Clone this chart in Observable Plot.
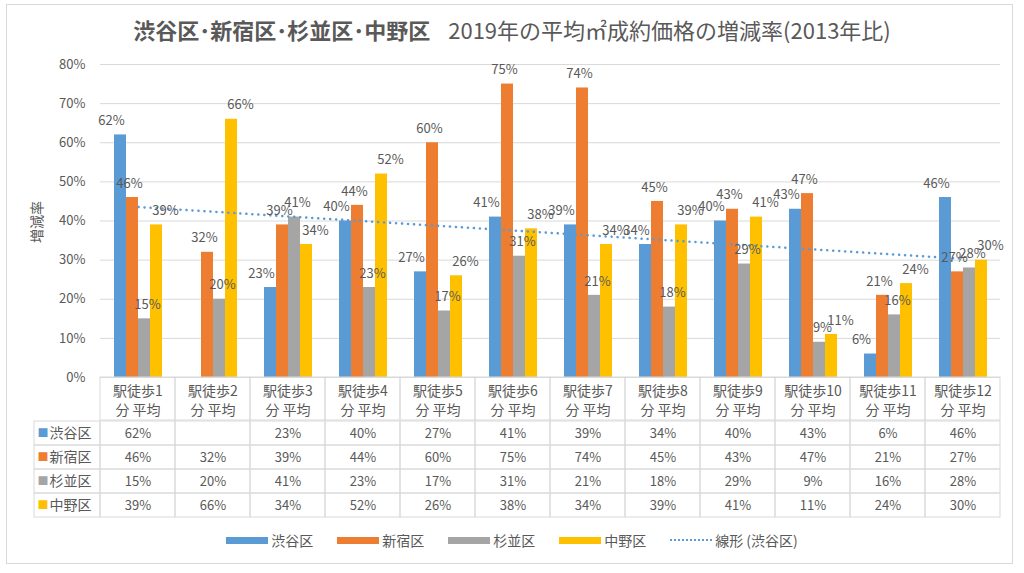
<!DOCTYPE html>
<html><head><meta charset="utf-8">
<script src="https://cdn.jsdelivr.net/npm/d3@7"></script>
<script src="https://cdn.jsdelivr.net/npm/@observablehq/plot@0.6"></script>
<style>
body{margin:0;background:#fff;font-family:"Noto Sans CJK JP","Noto Sans",sans-serif;color:#595959}
#root{position:relative;width:1024px;height:573px;overflow:hidden;background:#fff}
#frame{position:absolute;left:6px;top:4px;width:1007px;height:560px;border:1px solid #d9d9d9;box-sizing:border-box}
.layer{position:absolute}
.layer svg{overflow:visible;display:block}
#title{position:absolute;left:0;top:15px;width:1024px;text-align:center;font-size:22px;line-height:28px;white-space:nowrap;color:#595959}
#title b{font-weight:700}
#title span{margin-left:18px}
#ylab{position:absolute;left:36px;top:222px;transform:translate(-50%,-50%) rotate(-90deg);font-size:14px;white-space:nowrap;color:#595959}
#legend{position:absolute;left:0;top:530px;width:1024px;height:20px;display:flex;justify-content:center;align-items:center;font-size:14px;color:#595959}
.item{display:flex;align-items:center;margin-right:24px}
.item:last-child{margin-right:0}
.sw{width:42px;height:7px;margin-right:3px}
.swd{width:42px;height:0;border-top:2.5px dotted #5B9BD5;margin-right:3px}
</style></head>
<body>
<div id="root">
  <div id="frame"></div>
  <div id="title"><b>渋谷区･新宿区･杉並区･中野区</b><span>2019年の平均㎡成約価格の増減率(2013年比)</span></div>
  <div id="ylab">増減率</div>
  <div id="legend"></div>
</div>
<script>
const categories = ["駅徒歩1\n分 平均","駅徒歩2\n分 平均","駅徒歩3\n分 平均","駅徒歩4\n分 平均","駅徒歩5\n分 平均","駅徒歩6\n分 平均","駅徒歩7\n分 平均","駅徒歩8\n分 平均","駅徒歩9\n分 平均","駅徒歩10\n分 平均","駅徒歩11\n分 平均","駅徒歩12\n分 平均"];
const seriesNames = ["渋谷区","新宿区","杉並区","中野区"];
const shibuya  = [62, null, 23, 40, 27, 41, 39, 34, 40, 43, 6, 46];
const shinjuku = [46, 32, 39, 44, 60, 75, 74, 45, 43, 47, 21, 27];
const suginami = [15, 20, 41, 23, 17, 31, 21, 18, 29, 9, 16, 28];
const nakano   = [39, 66, 34, 52, 26, 38, 34, 39, 41, 11, 24, 30];
const yTicks = [0, 10, 20, 30, 40, 50, 60, 70, 80];
const seriesColors = ["#5B9BD5", "#ED7D31", "#A5A5A5", "#FFC000"];
const trendName = "線形 (渋谷区)";

const FONT = '"Noto Sans CJK JP","Noto Sans",sans-serif';
const TEXT = "#595959";
const GRID = "#d9d9d9";
const seriesValues = [shibuya, shinjuku, suginami, nakano];

const rows = [];
categories.forEach((cat, i) => seriesNames.forEach((s, k) => {
  rows.push({cat, series: s, value: seriesValues[k][i]});
}));
const barRows = rows.filter(d => d.value != null);

// least-squares linear trend of 渋谷区 (Excel 線形近似)
const pts = shibuya.map((v, i) => ({x: i + 1, y: v})).filter(p => p.y != null);
const mx = d3.mean(pts, p => p.x), my = d3.mean(pts, p => p.y);
const slope = d3.sum(pts, p => (p.x - mx) * (p.y - my)) / d3.sum(pts, p => (p.x - mx) ** 2);
const icpt = my - slope * mx;
const trend = categories.map((cat, i) => ({cat, value: icpt + slope * (i + 1)}));

const root = document.getElementById("root");
function place(el, left, top) {
  const d = document.createElement("div");
  d.className = "layer";
  d.style.left = left + "px";
  d.style.top = top + "px";
  d.appendChild(el);
  root.appendChild(d);
}
const style = {fontFamily: FONT, fontSize: "13px", color: TEXT, background: "transparent", overflow: "visible"};
const common = {width: 1024, height: 378, marginTop: 64, marginBottom: 1, marginLeft: 100, marginRight: 24, style};

// bars + grid + y axis
place(Plot.plot({
  ...common,
  fx: {domain: categories, padding: 0, axis: null, label: null},
  x: {domain: seriesNames, paddingInner: 0, paddingOuter: 0.885, axis: null, label: null},
  y: {domain: [0, 80], ticks: yTicks, tickFormat: d => d + "%", tickSize: 0, tickPadding: 15, label: null},
  color: {domain: seriesNames, range: seriesColors},
  marks: [
    Plot.ruleY(yTicks, {stroke: GRID}),
    Plot.barY(barRows, {fx: "cat", x: "series", y: "value", fill: "series"})
  ]
}), 0, 0);

// trend line
place(Plot.plot({
  ...common,
  x: {type: "point", domain: categories, padding: 0.5, axis: null},
  y: {domain: [0, 80], axis: null},
  marks: [
    Plot.line(trend, {x: "cat", y: "value", stroke: seriesColors[0], strokeWidth: 2.5, strokeDasharray: "0.1,5.9", strokeLinecap: "round"})
  ]
}), 0, 0);

// data labels
place(Plot.plot({
  ...common,
  fx: {domain: categories, padding: 0, axis: null, label: null},
  x: {domain: seriesNames, paddingInner: 0, paddingOuter: 0.885, axis: null, label: null},
  y: {domain: [0, 80], axis: null},
  marks: [
    Plot.text(barRows, {fx: "cat", x: "series", y: "value", text: d => d.value + "%", dy: -14, fill: TEXT, fontSize: 13})
  ]
}), 0, 0);

// table header (category labels)
place(Plot.plot({
  width: 1024, height: 44, marginTop: 0, marginBottom: 1, marginLeft: 100, marginRight: 24, style,
  x: {domain: categories, padding: 0, axis: null},
  marks: [
    Plot.cell(categories, {x: d => d, fill: "none", stroke: GRID}),
    Plot.text(categories, {x: d => d, text: d => d, fontSize: 14, lineHeight: 1.35, fill: TEXT})
  ]
}), 0, 377);

// table body
place(Plot.plot({
  width: 1024, height: 99, marginTop: 0, marginBottom: 1, marginLeft: 100, marginRight: 24, style,
  x: {domain: categories, padding: 0, axis: null},
  y: {domain: seriesNames, padding: 0, axis: null},
  marks: [
    Plot.cell(rows, {x: "cat", y: "series", fill: "none", stroke: GRID}),
    Plot.text(barRows, {x: "cat", y: "series", text: d => d.value + "%", fontSize: 13, fill: TEXT})
  ]
}), 0, 420);

// table row labels with legend keys
place(Plot.plot({
  width: 68, height: 99, marginTop: 0, marginBottom: 1, marginLeft: 1, marginRight: 1, style,
  y: {domain: seriesNames, padding: 0, axis: null},
  color: {domain: seriesNames, range: seriesColors},
  marks: [
    Plot.cell(seriesNames, {y: d => d, fill: "none", stroke: GRID}),
    Plot.text(seriesNames, {y: d => d, text: () => "■", frameAnchor: "left", textAnchor: "start", dx: 3, fill: d => d, fontSize: 11}),
    Plot.text(seriesNames, {y: d => d, text: d => d, frameAnchor: "left", textAnchor: "start", dx: 15, fill: TEXT, fontSize: 14})
  ]
}), 33, 420);

// legend
const legend = document.getElementById("legend");
seriesNames.forEach((s, k) => {
  const it = document.createElement("div");
  it.className = "item";
  it.innerHTML = `<div class="sw" style="background:${seriesColors[k]}"></div><span>${s}</span>`;
  legend.appendChild(it);
});
const ti = document.createElement("div");
ti.className = "item";
ti.innerHTML = `<div class="swd"></div><span>${trendName}</span>`;
legend.appendChild(ti);
</script>
</body></html>
